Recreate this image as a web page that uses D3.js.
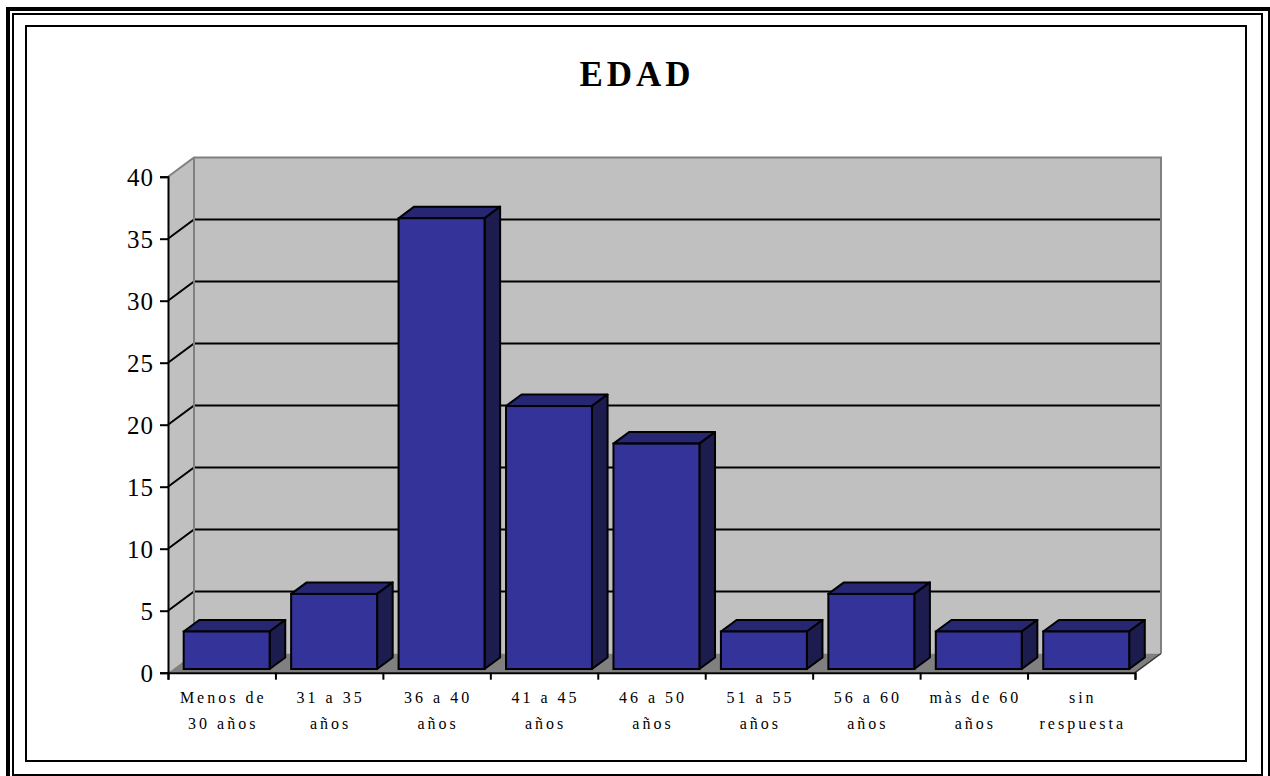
<!DOCTYPE html>
<html>
<head>
<meta charset="utf-8">
<script src="https://cdn.jsdelivr.net/npm/d3@7"></script>
<style>
  html, body { margin: 0; padding: 0; background: #ffffff; }
  svg { display: block; }
  svg text { font-family: "Liberation Serif", "DejaVu Serif", "Noto Serif", serif; fill: #000; }
</style>
</head>
<body>
<svg id="chart" width="1270" height="776"></svg>
<script>
// Age groups (line 1 / line 2 of each category label)
const categories = [
  ["Menos de", "30 años"],
  ["31 a 35", "años"],
  ["36 a 40", "años"],
  ["41 a 45", "años"],
  ["46 a 50", "años"],
  ["51 a 55", "años"],
  ["56 a 60", "años"],
  ["màs de 60", "años"],
  ["sin", "respuesta"]
];
// Percentage of respondents in each group
const values = [3.03, 6.06, 36.36, 21.21, 18.18, 3.03, 6.06, 3.03, 3.03];
const yTicks = [0, 5, 10, 15, 20, 25, 30, 35, 40];
const title = "EDAD";

const serif = "'Liberation Serif', 'DejaVu Serif', 'Noto Serif', serif";
const svg = d3.select("#chart");

// Page-style frame: thick outer, thin middle, inner chart border
svg.append("rect").attr("x", 8).attr("y", 9).attr("width", 1262).attr("height", 780)
  .attr("fill", "none").attr("stroke", "#000").attr("stroke-width", 4);
svg.append("rect").attr("x", 13).attr("y", 14).attr("width", 1249).attr("height", 761)
  .attr("fill", "none").attr("stroke", "#000").attr("stroke-width", 2);
svg.append("rect").attr("x", 26).attr("y", 26).attr("width", 1220).attr("height", 735)
  .attr("fill", "none").attr("stroke", "#000").attr("stroke-width", 2);

// Title
svg.append("text")
  .attr("x", 637).attr("y", 86)
  .attr("text-anchor", "middle")
  .style("font-family", serif)
  .attr("font-size", 35).attr("font-weight", "bold")
  .attr("letter-spacing", 4)
  .text(title);

// 3D layout: front plane plus an oblique depth vector
const x0 = 168, x1 = 1135;
const y = d3.scaleLinear().domain([0, 40]).range([672.7, 176.7]);
const depth = { dx: 26, dy: -19.2 };
const barFront = 0.19, barDepth = 0.6;

const band = d3.scaleBand()
  .domain(d3.range(categories.length))
  .range([x0, x1])
  .paddingInner(0.2)
  .paddingOuter(0.1);
const step = band.step();

const poly = pts => pts.map(p => p.join(",")).join(" ");
const wallColor = "#c0c0c0", edgeColor = "#808080";

const yTop = y(40), yBase = y(0);
const bx = x0 + depth.dx, bxr = x1 + depth.dx;

// Back wall
svg.append("polygon")
  .attr("points", poly([[bx, yTop + depth.dy], [bxr, yTop + depth.dy], [bxr, yBase + depth.dy], [bx, yBase + depth.dy]]))
  .attr("fill", wallColor);
// Left side wall
svg.append("polygon")
  .attr("points", poly([[x0, yTop], [bx, yTop + depth.dy], [bx, yBase + depth.dy], [x0, yBase]]))
  .attr("fill", wallColor);

// Gridlines on side and back walls
const grid = svg.append("g");
yTicks.filter(t => t > 0 && t < 40).forEach(t => {
  grid.append("polyline")
    .attr("points", poly([[x0, y(t)], [bx, y(t) + depth.dy], [bxr, y(t) + depth.dy]]))
    .attr("fill", "none").attr("stroke", "#000").attr("stroke-width", 2);
});

// Wall edges
svg.append("polyline")
  .attr("points", poly([[x0, yTop], [bx, yTop + depth.dy], [bxr, yTop + depth.dy], [bxr, yBase + depth.dy]]))
  .attr("fill", "none").attr("stroke", edgeColor).attr("stroke-width", 2);
svg.append("line")
  .attr("x1", bx).attr("x2", bx).attr("y1", yTop + depth.dy).attr("y2", yBase + depth.dy)
  .attr("stroke", edgeColor).attr("stroke-width", 2);

// Floor
svg.append("polygon")
  .attr("points", poly([[x0, yBase], [x1, yBase], [bxr, yBase + depth.dy], [bx, yBase + depth.dy]]))
  .attr("fill", "#808080");
svg.append("line")
  .attr("x1", x1).attr("y1", yBase).attr("x2", bxr).attr("y2", yBase + depth.dy)
  .attr("stroke", "#333").attr("stroke-width", 1.5);

// Bars
const fdx = barFront * depth.dx, fdy = barFront * depth.dy;
const bdx = barDepth * depth.dx, bdy = barDepth * depth.dy;
const bars = svg.append("g").selectAll("g").data(values).join("g");
bars.each(function(v, i) {
  const g = d3.select(this);
  const xl = band(i) + fdx, xr = xl + band.bandwidth();
  const top = y(v) + fdy, base = y(0) + fdy;
  g.append("polygon")
    .attr("points", poly([[xl, top], [xr, top], [xr + bdx, top + bdy], [xl + bdx, top + bdy]]))
    .attr("fill", "#262673").attr("stroke", "#000").attr("stroke-width", 2).attr("stroke-linejoin", "round");
  g.append("polygon")
    .attr("points", poly([[xr, top], [xr + bdx, top + bdy], [xr + bdx, base + bdy], [xr, base]]))
    .attr("fill", "#1c1c4e").attr("stroke", "#000").attr("stroke-width", 2).attr("stroke-linejoin", "round");
  g.append("rect")
    .attr("x", xl).attr("y", top).attr("width", xr - xl).attr("height", base - top)
    .attr("fill", "#333399").attr("stroke", "#000").attr("stroke-width", 2);
});

// Y axis on the front-left edge
const yAxis = d3.axisLeft(y).tickValues(yTicks).tickSize(8).tickPadding(6);
const gy = svg.append("g").attr("transform", `translate(${x0},0)`).call(yAxis);
gy.attr("font-family", null).attr("font-size", null);
gy.select(".domain").attr("stroke", "#000").attr("stroke-width", 2);
gy.selectAll(".tick line").attr("stroke", "#000").attr("stroke-width", 2);
gy.selectAll(".tick text")
  .style("font-family", serif)
  .attr("font-size", 25).attr("fill", "#000").attr("dy", "0.34em")
  .attr("letter-spacing", 1);

// X axis with ticks between categories
const xb = d3.scaleLinear().domain([0, categories.length]).range([x0, x1]);
const xAxis = d3.axisBottom(xb).tickValues(d3.range(categories.length + 1)).tickSize(7).tickFormat("");
const gx = svg.append("g").attr("transform", `translate(0,${yBase})`).call(xAxis);
gx.select(".domain").attr("stroke", "#000").attr("stroke-width", 2);
gx.selectAll(".tick line").attr("stroke", "#000").attr("stroke-width", 2);

// Category labels
const labels = svg.append("g").selectAll("text").data(categories).join("text")
  .attr("text-anchor", "middle")
  .style("font-family", serif)
  .attr("font-size", 16)
  .attr("letter-spacing", 3);
labels.each(function(lines, i) {
  const cx = x0 + (i + 0.5) * step + 1.5;
  const t = d3.select(this);
  t.append("tspan").attr("x", cx).attr("y", 703).text(lines[0]);
  t.append("tspan").attr("x", cx).attr("y", 729).text(lines[1]);
});
</script>
</body>
</html>
